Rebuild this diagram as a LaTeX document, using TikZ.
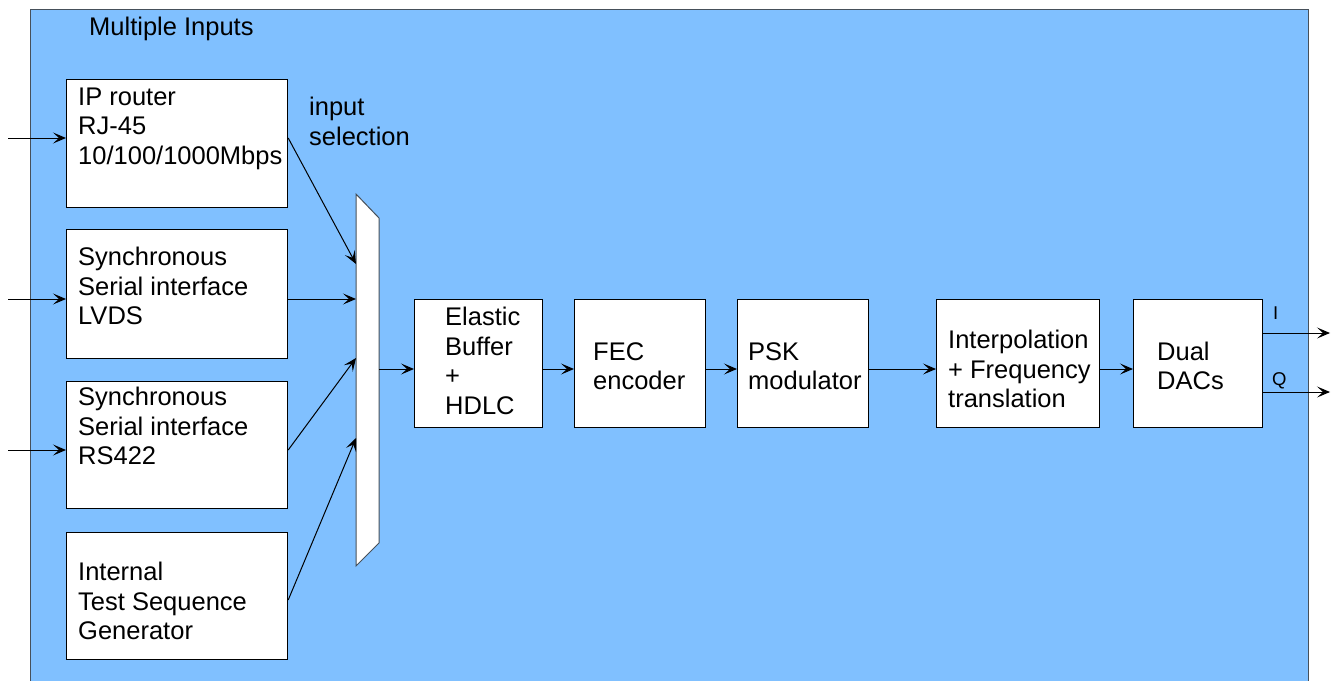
\documentclass[tikz,border=0pt]{standalone}
\usepackage{fontspec}
\setmainfont{Liberation Sans}
\usetikzlibrary{arrows.meta}
\definecolor{bgblue}{RGB}{128,192,255}
\definecolor{edgegray}{RGB}{70,80,90}
\tikzset{
  blk/.style={draw=black, line width=1.2pt, fill=white, inner sep=0pt, anchor=north west},
  txt/.style={inner sep=0pt, anchor=west, align=left, font=\fontsize{25.5}{29.5}\selectfont},
  small/.style={inner sep=0pt, font=\fontsize{18.5}{21}\selectfont},
  conn/.style={line width=1pt, -{Stealth[length=13pt,width=11pt,inset=6pt]}},
}
\begin{document}
\begin{tikzpicture}[x=1pt,y=-1pt]
\useasboundingbox (0,0) rectangle (1338,680);
% background panel
\path[fill=bgblue, draw=edgegray, line width=1pt] (30,9.5) -- (1308,9.5) -- (1308,690) -- (30,690) -- cycle;
\node[txt] (title) at (89,29) {Multiple Inputs};

% input boxes
\node[blk, minimum width=221pt, minimum height=128pt] (ip) at (66,79) {};
\node[blk, minimum width=221pt, minimum height=129pt] (lvds) at (66,229) {};
\node[blk, minimum width=221pt, minimum height=127pt] (rs) at (66,381) {};
\node[blk, minimum width=221pt, minimum height=127pt] (gen) at (66,532) {};
\node[txt] (ipt) at (78,128.5) {IP router\\RJ-45\\10/100/1000Mbps};
\node[txt] (lvdst) at (78,286) {Synchronous\\Serial interface\\LVDS};
\node[txt] (rst) at (78,426) {Synchronous\\Serial interface\\RS422};
\node[txt] (gent) at (78,601) {Internal\\Test Sequence\\Generator};
\node[txt] (sel) at (309,121.5) {input\\selection};

% mux
\draw[fill=white, draw=edgegray, line width=1pt] (356,194) -- (379,218) -- (379,543) -- (356,566) -- cycle;
\coordinate (m1) at (356,264);
\coordinate (m2) at (356,299);
\coordinate (m3) at (356,358);
\coordinate (m4) at (356,438);
\coordinate (mo) at (379,369);

% processing chain
\node[blk, minimum width=128pt, minimum height=128pt] (eb) at (414,299) {};
\node[blk, minimum width=131pt, minimum height=128pt] (fec) at (574,299) {};
\node[blk, minimum width=131pt, minimum height=128pt] (psk) at (737,299) {};
\node[blk, minimum width=163pt, minimum height=128pt] (intp) at (936,299) {};
\node[blk, minimum width=129pt, minimum height=128pt] (dac) at (1133,299) {};
\node[txt] (ebt) at (445,361) {Elastic\\Buffer\\+\\HDLC};
\node[txt] (fect) at (593,366) {FEC\\encoder};
\node[txt] (pskt) at (748,366) {PSK\\modulator};
\node[txt] (intpt) at (948,369) {Interpolation\\+ Frequency\\translation};
\node[txt] (dact) at (1157,366) {Dual\\DACs};

% input arrows
\coordinate (in1) at (8,138);
\coordinate (in2) at (8,299);
\coordinate (in3) at (8,450);
\draw[conn] (in1) -- (ip.west |- in1);
\draw[conn] (in2) -- (lvds.west |- in2);
\draw[conn] (in3) -- (rs.west |- in3);

% to mux
\draw[conn] (ip.east |- in1) -- (m1);
\draw[conn] (lvds.east |- in2) -- (m2);
\draw[conn] (rs.east |- in3) -- (m3);
\draw[conn] (gen.east |- 0,600) -- (m4);

% chain arrows
\draw[conn] (mo) -- (eb.west |- mo);
\draw[conn] (eb.east |- mo) -- (fec.west |- mo);
\draw[conn] (fec.east |- mo) -- (psk.west |- mo);
\draw[conn] (psk.east |- mo) -- (intp.west |- mo);
\draw[conn] (intp.east |- mo) -- (dac.west |- mo);

% outputs
\coordinate (oi) at (1330,333);
\coordinate (oq) at (1330,392);
\draw[conn] (dac.east |- oi) -- (oi);
\draw[conn] (dac.east |- oq) -- (oq);
\node[small, anchor=west] (il) at (1273,313) {I};
\node[small, anchor=west] (ql) at (1272,381) {Q};
\end{tikzpicture}
\end{document}
